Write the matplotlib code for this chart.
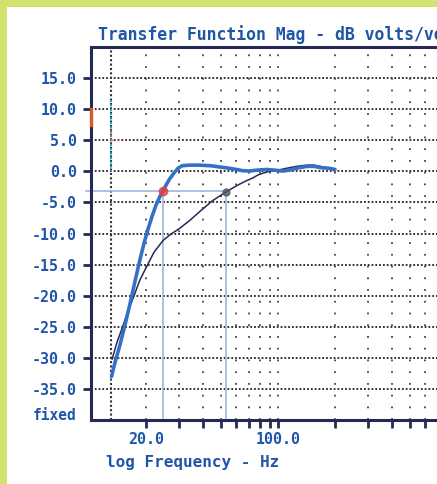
import matplotlib.pyplot as plt
from matplotlib.patches import Rectangle
from matplotlib.ticker import FixedLocator, NullLocator

freq_a = [13.1, 13.6, 14.5, 15.5, 16.5, 17.5, 18.5, 19.5, 20.5, 21.5, 22.5, 23.5, 24.5, 25.5,
          26.5, 28.0, 29.5, 31.0, 34.0, 38.0, 44.0, 49.0, 55.0, 60.0, 65.0, 70.0, 78.0, 87.0,
          95.0, 106.0, 115.0, 125.0, 142.0, 155.0, 167.0, 185.0, 200.0]
mag_a = [-33.0, -31.0, -28.0, -24.5, -21.0, -17.5, -14.3, -11.5, -9.2, -7.2, -5.5, -4.2, -3.2, -2.2,
         -1.3, -0.3, 0.5, 0.9, 1.0, 1.0, 0.9, 0.7, 0.5, 0.3, 0.1, 0.05, 0.2, 0.3,
         0.2, 0.05, 0.2, 0.5, 0.8, 0.8, 0.6, 0.5, 0.3]

freq_b = [13.2, 14.0, 15.0, 16.0, 17.1, 18.5, 20.2, 22.0, 24.6, 27.0, 30.0, 34.0, 38.0, 45.0,
          52.4, 58.0, 63.0, 68.0, 73.0, 78.0, 83.0, 90.0, 100.0, 111.0, 125.0, 142.0, 155.0,
          167.0, 185.0, 200.0]
mag_b = [-30.2, -27.5, -25.0, -22.5, -20.3, -17.5, -15.2, -13.0, -11.1, -10.1, -9.2, -7.9, -6.6, -4.7,
         -3.4, -2.6, -2.0, -1.5, -1.1, -0.6, -0.3, 0.0, 0.2, 0.5, 0.8, 1.0, 1.0,
         0.8, 0.5, 0.3]

f3_a, f3_b, lvl_3db = 24.5, 53.0, -3.2
cursor_f = 13.0

yticks = [15, 10, 5, 0, -5, -10, -15, -20, -25, -30, -35]
xticks = [20, 30, 40, 50, 60, 70, 80, 90, 100, 200, 300, 400, 500, 600, 700, 800, 900]
xlabels = {20: '20.0', 100: '100.0'}

W, H = 437, 484
blue_txt = '#1f56a8'
navy = '#252a55'
mono = ['DejaVu Sans Mono']

fig = plt.figure(figsize=(W / 100, H / 100), dpi=100)
fig.patch.set_facecolor('#d3e16f')
fig.patches.append(Rectangle((7 / W, 0), 1, 1 - 7 / H, transform=fig.transFigure,
                             facecolor='white', edgecolor='none', zorder=-5))

ax = fig.add_axes([91 / W, (H - 420) / H, 376 / W, 373 / H])
ax.set_zorder(2)
ax.set_xscale('log')
ax.set_xlim(10.2, 1000)
ax.set_ylim(-40, 20)
ax.set_facecolor('none')

# grid
for y in yticks:
    ax.axhline(y, color='#222222', lw=1.3, ls=(0, (1, 1.1)), zorder=1)
for x in xticks:
    ax.axvline(x, color='#444444', lw=1.3, ls=(0, (1, 5.5)), zorder=1)
ax.axvline(cursor_f, color='#333333', lw=1.5, ls=(0, (1, 1.1)), zorder=2)
ax.plot([cursor_f, cursor_f], [11.5, 0], color='#22a6c6', lw=1.5, ls=(0, (1, 1.1)), zorder=2)

# -3 dB markers
ax.plot([9.6, f3_b], [lvl_3db, lvl_3db], color='#9fb5e0', lw=1.2, zorder=2, clip_on=False)
ax.plot([f3_a, f3_a], [-40, lvl_3db], color='#9fb5e0', lw=1.2, zorder=2)
ax.plot([f3_b, f3_b], [-40, lvl_3db], color='#9fb5e0', lw=1.2, zorder=2)

ax.plot(freq_b, mag_b, color=navy, lw=1.1, zorder=3)
ax.plot(freq_a, mag_a, color='#3471c4', lw=2.6, zorder=4, solid_capstyle='round')
ax.plot([f3_a], [lvl_3db], 'o', color='#e04040', ms=6, alpha=0.8, zorder=5)
ax.plot([f3_b], [-3.4], 'o', color='#555555', ms=5, alpha=0.8, zorder=5)

# small orange marks
ax.plot([0, 0], [7.5, 10], color='#d0602a', lw=2.4, transform=ax.get_yaxis_transform(),
        clip_on=False, zorder=6)
ax.plot([cursor_f, cursor_f], [5, 7], color='#d0602a', lw=1.2, ls=(0, (1, 1.3)), zorder=3)
ax.plot([cursor_f, 14.5], [5, 5], color='#d0602a', lw=1.0, ls=(0, (1, 1.3)), zorder=3)

for side in ['left', 'bottom', 'top']:
    ax.spines[side].set_color(navy)
    ax.spines[side].set_linewidth(2.2)
ax.spines['right'].set_visible(False)

ax.yaxis.set_major_locator(FixedLocator(yticks))
ax.set_yticklabels(['%.1f' % v for v in yticks])
ax.xaxis.set_major_locator(FixedLocator(xticks))
ax.xaxis.set_minor_locator(NullLocator())
ax.set_xticklabels([xlabels.get(v, '') for v in xticks])
ax.tick_params(axis='y', length=6, width=2, color=navy, pad=4, labelsize=10.8,
               labelcolor=blue_txt)
ax.tick_params(axis='x', length=6, width=2, color=navy, pad=3, labelsize=10.8,
               labelcolor=blue_txt)
for lab in ax.get_xticklabels() + ax.get_yticklabels():
    lab.set_family(mono)
    lab.set_fontweight('bold')

fig.text(98 / W, 1 - 35 / H, 'Transfer Function Mag - dB volts/volts', ha='left', va='center',
         color=blue_txt, family=mono, fontweight='bold', fontsize=11.9)
fig.text(77 / W, 1 - 416 / H, 'fixed', ha='right', va='center',
         color=blue_txt, family=mono, fontweight='bold', fontsize=10.5)
fig.text(193 / W, 1 - 463 / H, 'log Frequency - Hz', ha='center', va='center',
         color=blue_txt, family=mono, fontweight='bold', fontsize=11.5)

fig.savefig('out.png', dpi=100)
